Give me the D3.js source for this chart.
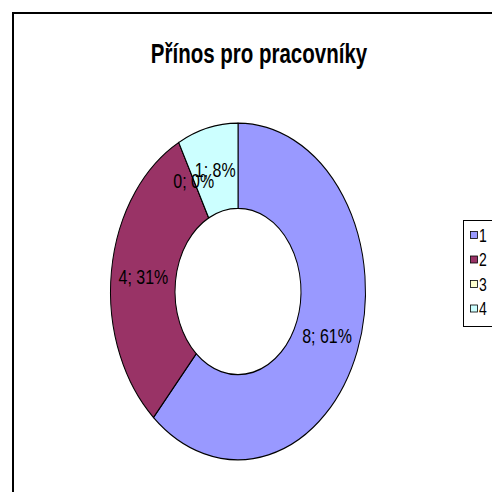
<!DOCTYPE html>
<html>
<head>
<meta charset="utf-8">
<script src="https://cdn.jsdelivr.net/npm/d3@7/dist/d3.min.js"></script>
<style>
  html, body { margin: 0; padding: 0; background: #fff; }
  svg { display: block; }
  text { font-family: "Liberation Sans", Arial, sans-serif; fill: #000; }
</style>
</head>
<body>
<svg id="chart" width="492" height="492"></svg>
<script>
// Chart data
const title = "Přínos pro pracovníky";
const categories = ["1", "2", "3", "4"];
const values = [8, 4, 0, 1];
const percentLabels = [61, 31, 0, 8];
const colors = ["#9999FF", "#993366", "#FFFFCC", "#CCFFFF"];

const W = 492, H = 492;
const svg = d3.select("#chart");

// The whole chart is drawn with a vertical stretch
const ky = 1.32;
const cx = 238, cy = 291.5;
const outerR = 127.5, innerR = 63;

// Outer frame
svg.append("rect")
  .attr("x", 13).attr("y", 13)
  .attr("width", 520).attr("height", 520)
  .attr("fill", "none").attr("stroke", "#000").attr("stroke-width", 2);

// Title
svg.append("g")
  .attr("transform", `translate(259,63) scale(1,${ky})`)
  .append("text")
  .attr("text-anchor", "middle")
  .style("font-size", "20.5px")
  .style("font-weight", "bold")
  .text(title);

// Donut
const pie = d3.pie().sort(null).value(d => d)
  .startAngle(0).endAngle(2 * Math.PI);
const arcs = pie(values);
const arc = d3.arc().innerRadius(innerR).outerRadius(outerR);
const labelArc = d3.arc().innerRadius((innerR + outerR) / 2).outerRadius((innerR + outerR) / 2);

const donut = svg.append("g")
  .attr("transform", `translate(${cx},${cy}) scale(1,${ky})`);

donut.selectAll("path.slice")
  .data(arcs)
  .join("path")
  .attr("class", "slice")
  .attr("d", arc)
  .attr("fill", (d, i) => colors[i])
  .attr("stroke", "#000")
  .attr("stroke-width", 1)
  .attr("stroke-linejoin", "round");

// Data labels: "value; percent%"
donut.selectAll("text.lbl")
  .data(arcs)
  .join("text")
  .attr("class", "lbl")
  .attr("x", d => labelArc.centroid(d)[0])
  .attr("y", d => labelArc.centroid(d)[1])
  .attr("dy", "0.35em")
  .attr("text-anchor", "middle")
  .style("font-size", "16px")
  .text((d, i) => `${values[i]}; ${percentLabels[i]}%`);

// Legend
const legX = 463.5, legY = 220.5, legStep = 24.5, legFirst = 235;
svg.append("rect")
  .attr("x", legX).attr("y", legY)
  .attr("width", 60).attr("height", 106)
  .attr("fill", "#fff").attr("stroke", "#000").attr("stroke-width", 1);

const leg = svg.append("g");
categories.forEach((c, i) => {
  const yc = legFirst + i * legStep;
  leg.append("rect")
    .attr("x", 470.5).attr("y", yc - 3.5)
    .attr("width", 7).attr("height", 7)
    .attr("fill", colors[i]).attr("stroke", "#000").attr("stroke-width", 0.8);
  leg.append("g")
    .attr("transform", `translate(479,${yc}) scale(1,${ky})`)
    .append("text")
    .attr("dy", "0.36em")
    .style("font-size", "14px")
    .text(c);
});
</script>
</body>
</html>
